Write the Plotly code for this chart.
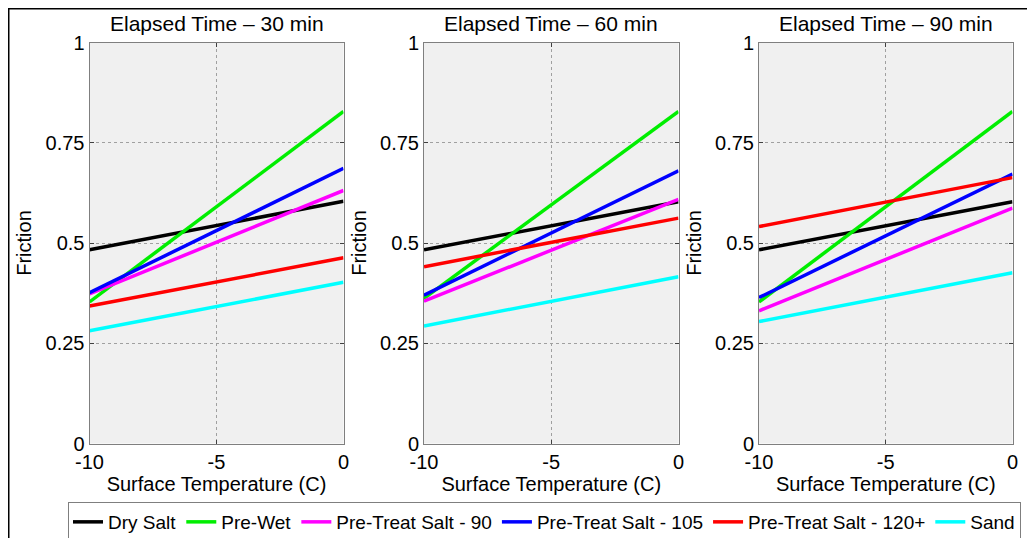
import plotly.graph_objects as go

# page body adds an 8px margin; figure coordinates are offset accordingly
OFF = 8
W, H = 1035 - OFF, 538 - OFF

temps = [-10, 0]
panel_titles = ["Elapsed Time \u2013 30 min", "Elapsed Time \u2013 60 min", "Elapsed Time \u2013 90 min"]
series_names = ["Dry Salt", "Pre-Wet", "Pre-Treat Salt - 90", "Pre-Treat Salt - 105",
                "Pre-Treat Salt - 120+", "Sand"]
series_colors = ["#000000", "#00ee00", "#ff00ff", "#0000ff", "#ff0000", "#00ffff"]

# friction at -10 C and 0 C for each panel
dry_salt = [[0.483, 0.604], [0.483, 0.603], [0.483, 0.603]]
pre_wet = [[0.353, 0.828], [0.362, 0.828], [0.353, 0.828]]
pretreat_90 = [[0.373, 0.631], [0.355, 0.609], [0.331, 0.587]]
pretreat_105 = [[0.376, 0.686], [0.370, 0.680], [0.364, 0.672]]
pretreat_120 = [[0.343, 0.463], [0.441, 0.562], [0.541, 0.663]]
sand = [[0.281, 0.402], [0.293, 0.416], [0.304, 0.426]]

all_series = [dry_salt, pre_wet, pretreat_90, pretreat_105, pretreat_120, sand]

x_tickvals = [-10, -5, 0]
x_ticktext = ["-10", "-5", "0"]
y_tickvals = [0, 0.25, 0.5, 0.75, 1]
y_ticktext = ["0", "0.25", "0.5", "0.75", "1"]

FONT = "Liberation Sans, Arial, sans-serif"

panel_px = [(89.5 - OFF, 343.5 - OFF), (424 - OFF, 678.5 - OFF), (759 - OFF, 1012.5 - OFF)]
y_top, y_bot = 42.5 - OFF, 443.5 - OFF

fig = go.Figure()

for p in range(3):
    xa = "x" if p == 0 else f"x{p+1}"
    ya = "y" if p == 0 else f"y{p+1}"
    for s, (name, color) in enumerate(zip(series_names, series_colors)):
        fig.add_trace(go.Scatter(
            x=temps, y=all_series[s][p], mode="lines", name=name,
            line=dict(color=color, width=3.5),
            xaxis=xa, yaxis=ya, showlegend=(p == 0), legendgroup=name,
        ))

axis_common = dict(
    showline=True, linecolor="#7f7f7f", linewidth=1, mirror="allticks",
    ticks="inside", ticklen=4, tickcolor="#404040",
    showgrid=True, gridcolor="#a0a0a0", griddash="dot", gridwidth=1,
    zeroline=False, automargin=False,
    tickfont=dict(family=FONT, size=20, color="#000"),
)

layout = dict(
    width=W, height=H,
    margin=dict(l=0, r=0, t=0, b=0, autoexpand=False),
    paper_bgcolor="white", plot_bgcolor="#f0f0f0",
    font=dict(family=FONT, size=20, color="#000"),
    showlegend=True,
    legend=dict(
        orientation="h", x=(68 - OFF) / W, xanchor="left", y=1 - (502 - OFF) / H, yanchor="top",
        bordercolor="#7f7f7f", borderwidth=1, bgcolor="white",
        font=dict(family=FONT, size=19, color="#000"),
        itemwidth=30, tracegroupgap=0,
    ),
)

annotations = []
for p in range(3):
    x0, x1 = panel_px[p]
    xk = "xaxis" if p == 0 else f"xaxis{p+1}"
    yk = "yaxis" if p == 0 else f"yaxis{p+1}"
    anchor_x = "y" if p == 0 else f"y{p+1}"
    anchor_y = "x" if p == 0 else f"x{p+1}"
    layout[xk] = dict(axis_common, domain=[x0 / W, x1 / W], range=[-10, 0],
                      tickvals=x_tickvals, ticktext=x_ticktext, anchor=anchor_x,
                      title=dict(text="Surface Temperature (C)", standoff=3,
                                 font=dict(family=FONT, size=20)))
    layout[yk] = dict(axis_common, domain=[1 - y_bot / H, 1 - y_top / H], range=[0, 1],
                      tickvals=y_tickvals, ticktext=y_ticktext, anchor=anchor_y,
                      title=dict(text="Friction", standoff=8,
                                 font=dict(family=FONT, size=20)))
    annotations.append(dict(
        text=panel_titles[p], x=(x0 + x1) / 2 / W, y=1 - (24 - OFF) / H,
        xref="paper", yref="paper",
        xanchor="center", yanchor="middle", showarrow=False,
        font=dict(family=FONT, size=21, color="#000"),
    ))

layout["annotations"] = annotations
layout["shapes"] = [dict(type="rect", xref="paper", yref="paper",
                         x0=0.5 / W, x1=1.05, y0=-0.05, y1=1 - 0.5 / H,
                         line=dict(color="#000", width=2), fillcolor="rgba(0,0,0,0)",
                         layer="above")]

fig.update_layout(**layout)
fig.write_html("out.html")
